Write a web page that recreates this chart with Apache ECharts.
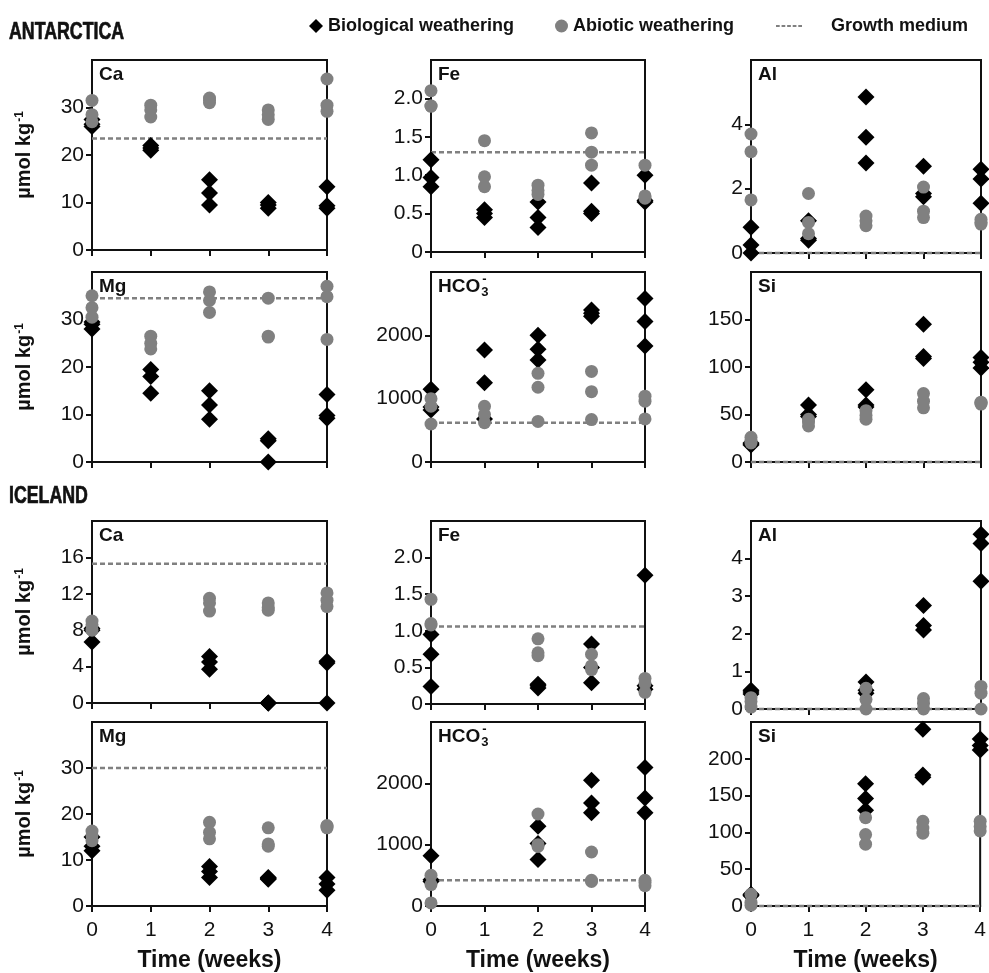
<!DOCTYPE html>
<html>
<head>
<meta charset="utf-8">
<script src="https://cdn.jsdelivr.net/npm/echarts@6/dist/echarts.min.js"></script>
<style>
  html, body { margin: 0; padding: 0; background: #fff; }
  #chart { width: 989px; height: 973px; }
</style>
</head>
<body>
<div id="chart"></div>
<script>
// ---- Sampling weeks ----
const antWeeks = [0, 1, 2, 3, 4];
const iceWeeks = [0, 2, 3, 4];

// ---- Antarctica (µmol kg-1), three replicates per sampling week ----
const antCaBio    = [[27.5, 26.5, 26], [22, 21.5, 21], [14.8, 12, 9.5], [10, 9.5, 8.8], [13.3, 9.3, 8.8]];
const antCaAbio   = [[31.5, 28.5, 27], [30.5, 29.5, 28], [32, 31.5, 31], [29.5, 28.5, 27.5], [36, 30.5, 29.2]];
const antCaMedium = 23.5;

const antFeBio    = [[1.2, 0.97, 0.85], [0.55, 0.5, 0.45], [0.65, 0.45, 0.32], [0.9, 0.53, 0.5], [1.0, 0.67, 0.65]];
const antFeAbio   = [[2.1, 1.9, 1.9], [1.45, 0.98, 0.85], [0.87, 0.8, 0.75], [1.55, 1.3, 1.13], [1.13, 0.73, 0.7]];
const antFeMedium = 1.3;

const antAlBio    = [[0.8, 0.25, 0], [1.0, 0.45, 0.4], [4.85, 3.6, 2.8], [2.7, 1.85, 1.75], [2.6, 2.3, 1.55]];
const antAlAbio   = [[3.7, 3.15, 1.65], [1.85, 0.95, 0.6], [1.15, 1.0, 0.85], [2.05, 1.3, 1.1], [1.05, 0.95, 0.9]];
const antAlMedium = 0;

const antMgBio    = [[29.5, 29, 28], [19.5, 18, 14.5], [15, 12, 9], [4.9, 4.5, 0], [14.2, 9.8, 9.2]];
const antMgAbio   = [[35, 32.5, 30.5], [26.5, 25, 23.8], [35.8, 34, 31.5], [34.5, 26.5, 26.3], [37, 34.8, 25.8]];
const antMgMedium = 34.5;

const antHco3Bio    = [[1150, 870, 820], [1770, 1250, 680], [2000, 1780, 1610], [2400, 2350, 2300], [2580, 2220, 1830]];
const antHco3Abio   = [[1000, 880, 600], [880, 750, 620], [1400, 1180, 640], [1430, 1110, 670], [1040, 960, 680]];
const antHco3Medium = 620;

const antSiBio    = [[20, 19, 18], [60, 50, 48], [76, 60, 58], [145, 111, 109], [110, 105, 99]];
const antSiAbio   = [[26, 22, 20], [45, 42, 38], [54, 49, 45], [72, 64, 57], [63, 62, 61]];
const antSiMedium = 0;

// ---- Iceland (µmol kg-1) ----
const iceCaBio    = [[8.2, 8.0, 6.7], [5.1, 4.5, 3.7], [0, 0, 0], [4.6, 4.4, 0]];
const iceCaAbio   = [[9.0, 8.6, 8.0], [11.5, 11, 10.1], [11.0, 10.5, 10.2], [12.1, 11.3, 10.6]];
const iceCaMedium = 15.3;

const iceFeBio    = [[0.95, 0.68, 0.24], [0.27, 0.25, 0.22], [0.82, 0.5, 0.29], [1.76, 0.25, 0.2]];
const iceFeAbio   = [[1.43, 1.1, 1.08], [0.89, 0.7, 0.66], [0.68, 0.52, 0.47], [0.35, 0.28, 0.16]];
const iceFeMedium = 1.06;

const iceAlBio    = [[0.5, 0.45, 0.4], [0.72, 0.5, 0.42], [2.75, 2.22, 2.1], [4.65, 4.4, 3.4]];
const iceAlAbio   = [[0.3, 0.2, 0.05], [0.55, 0.25, 0], [0.28, 0.15, 0], [0.6, 0.42, 0]];
const iceAlMedium = 0;

const iceMgBio    = [[15, 13, 12], [8.6, 7.5, 6.2], [6.2, 6, 5.8], [6.2, 4.8, 3.4]];
const iceMgAbio   = [[16.3, 15.3, 14.2], [18.2, 16, 14.6], [17, 13.5, 13], [17.5, 17.3, 17.0]];
const iceMgMedium = 30;

const iceHco3Bio    = [[820, 430, 400], [1300, 1020, 760], [2050, 1680, 1520], [2260, 1760, 1520]];
const iceHco3Abio   = [[500, 350, 50], [1500, 1000, 970], [880, 420, 400], [420, 380, 330]];
const iceHco3Medium = 420;

const iceSiBio    = [[16, 15, 14], [166, 146, 130], [240, 178, 175], [227, 218, 212]];
const iceSiAbio   = [[16, 5, 1], [120, 97, 84], [115, 106, 99], [115, 108, 102]];
const iceSiMedium = 0;

// ---- Axis ranges and labels ----
const yMax  = { Ca: [40, 20], Fe: [2.5, 2.5], Al: [6, 5], Mg: [40, 40], HCO3: [3000, 3000], Si: [200, 250] };
const yStep = { Ca: [10, 4], Fe: [0.5, 0.5], Al: [2, 1], Mg: [10, 10], HCO3: [1000, 1000], Si: [50, 50] };
const regionTitles = ['ANTARCTICA', 'ICELAND'];
const seriesNames = ['Biological weathering', 'Abiotic weathering', 'Growth medium'];
const xTitle = 'Time (weeks)';
const yTitle = 'µmol kg';

// panel list: [label, region, row-in-region, col, weeks, bio, abiotic, medium]
const panels = [
  ['Ca',   0, 0, 0, antWeeks, antCaBio,   antCaAbio,   antCaMedium],
  ['Fe',   0, 0, 1, antWeeks, antFeBio,   antFeAbio,   antFeMedium],
  ['Al',   0, 0, 2, antWeeks, antAlBio,   antAlAbio,   antAlMedium],
  ['Mg',   0, 1, 0, antWeeks, antMgBio,   antMgAbio,   antMgMedium],
  ['HCO3', 0, 1, 1, antWeeks, antHco3Bio, antHco3Abio, antHco3Medium],
  ['Si',   0, 1, 2, antWeeks, antSiBio,   antSiAbio,   antSiMedium],
  ['Ca',   1, 0, 0, iceWeeks, iceCaBio,   iceCaAbio,   iceCaMedium],
  ['Fe',   1, 0, 1, iceWeeks, iceFeBio,   iceFeAbio,   iceFeMedium],
  ['Al',   1, 0, 2, iceWeeks, iceAlBio,   iceAlAbio,   iceAlMedium],
  ['Mg',   1, 1, 0, iceWeeks, iceMgBio,   iceMgAbio,   iceMgMedium],
  ['HCO3', 1, 1, 1, iceWeeks, iceHco3Bio, iceHco3Abio, iceHco3Medium],
  ['Si',   1, 1, 2, iceWeeks, iceSiBio,   iceSiAbio,   iceSiMedium]
];

// ---- Layout (pixels) ----
const FONT = "'Liberation Sans', Arial, sans-serif";
const colLeft = [92, 431, 751];
const colWidth = [235, 214, 230];
const panelTop = [60, 60, 60, 272, 272, 272, 521, 521, 521, 722, 722, 722];
const panelHeight = [190, 192, 193, 190, 190, 190, 182, 183, 188, 186, 185, 187];
const regionTitleY = [20, 484];
const INK = '#111';
const GREY = '#808080';
// short dash pattern used as the legend icon of the growth-medium line
const DASH_ICON = 'path://M0,0h4v2h-4z M6,0h4v2h-4z M12,0h4v2h-4z M18,0h4v2h-4z M24,0h4v2h-4z';

function toPoints(weeks, groups) {
  const pts = [];
  weeks.forEach((w, i) => groups[i].forEach(v => pts.push([w, v])));
  return pts;
}

function measure(text, font) {
  const ctx = document.createElement('canvas').getContext('2d');
  ctx.font = font;
  return ctx.measureText(text).width;
}

const grids = [], xAxes = [], yAxes = [], series = [], graphics = [];

// condensed, heavy region headings
regionTitles.forEach((t, k) => {
  graphics.push({ type: 'text', x: 9, y: regionTitleY[k], scaleX: 0.74, z: 10,
    style: { text: t, font: 'bold 24px ' + FONT, fill: INK, stroke: INK, lineWidth: 0.7, textVerticalAlign: 'top' } });
});

panels.forEach((p, i) => {
  const [label, region, row, col, weeks, bio, abio, medium] = p;
  const left = colLeft[col], top = panelTop[i], width = colWidth[col], height = panelHeight[i];
  const bottomRow = region === 1 && row === 1;
  grids.push({ left, top, width, height, show: true, borderColor: INK, borderWidth: 2, containLabel: false });

  xAxes.push({
    gridIndex: i, type: 'value', min: 0, max: 4, interval: 1,
    axisLine: { show: true, onZero: false, lineStyle: { color: INK, width: 2 } },
    axisTick: { show: true, inside: false, length: 6, lineStyle: { color: INK, width: 2 } },
    axisLabel: { show: bottomRow, fontSize: 21, fontFamily: FONT, color: INK, margin: 14 },
    splitLine: { show: false },
    name: bottomRow ? xTitle : '', nameLocation: 'middle', nameGap: 43,
    nameTextStyle: { fontSize: 23, fontWeight: 'bold', fontFamily: FONT, color: INK }
  });

  const max = yMax[label][region], step = yStep[label][region];
  yAxes.push({
    gridIndex: i, type: 'value', min: 0, max, interval: step,
    axisLine: { show: true, onZero: false, lineStyle: { color: INK, width: 2 } },
    axisTick: { show: true, inside: false, length: 6, lineStyle: { color: INK, width: 2 } },
    axisLabel: {
      fontSize: 21, fontFamily: FONT, color: INK, margin: 8, showMaxLabel: false,
      formatter: v => (label === 'Fe' && v !== 0) ? v.toFixed(1) : String(v)
    },
    splitLine: { show: false },
    name: col === 0 ? '{a|' + yTitle + '}{b|-1}' : '',
    nameLocation: 'middle', nameGap: 58, nameRotate: 90,
    nameTextStyle: {
      rich: {
        a: { fontSize: 20, fontWeight: 'bold', fontFamily: FONT, color: INK },
        b: { fontSize: 12, fontWeight: 'bold', fontFamily: FONT, color: INK, verticalAlign: 'top', padding: [0, 0, 8, 1] }
      }
    }
  });

  series.push({
    type: 'line', name: seriesNames[2], xAxisIndex: i, yAxisIndex: i,
    data: [[0, medium], [4, medium]], symbol: 'none', clip: false, silent: true, z: 1,
    lineStyle: { color: GREY, width: 2.5, type: [5, 3] }, itemStyle: { color: GREY }
  });
  series.push({
    type: 'scatter', name: seriesNames[0], xAxisIndex: i, yAxisIndex: i,
    data: toPoints(weeks, bio), symbol: 'diamond', symbolSize: 17, clip: false, z: 2,
    itemStyle: { color: '#000', opacity: 1 }
  });
  series.push({
    type: 'scatter', name: seriesNames[1], xAxisIndex: i, yAxisIndex: i,
    data: toPoints(weeks, abio), symbol: 'circle', symbolSize: 13, clip: false, z: 3,
    itemStyle: { color: GREY, opacity: 1 }
  });

  // panel label in the upper-left corner
  const lx = left + 7, ly = top + 5;
  if (label === 'HCO3') {
    const font = 'bold 19px ' + FONT;
    const w = measure('HCO', font);
    graphics.push({ type: 'text', left: lx, top: ly, z: 10, style: { text: 'HCO', font, fill: INK } });
    graphics.push({ type: 'text', left: lx + w + 1, top: ly + 9, z: 10, style: { text: '3', font: 'bold 13px ' + FONT, fill: INK } });
    graphics.push({ type: 'text', left: lx + w + 2, top: ly - 4, z: 10, style: { text: '-', font: 'bold 13px ' + FONT, fill: INK } });
  } else {
    graphics.push({ type: 'text', left: lx, top: ly, z: 10, style: { text: label, font: 'bold 19px ' + FONT, fill: INK } });
  }
});

const legendText = { fontSize: 18, fontWeight: 'bold', fontFamily: FONT, color: INK };

const option = {
  animation: false,
  backgroundColor: '#fff',
  legend: [
    { left: 309, top: 17, padding: 0, selectedMode: false, itemWidth: 14, itemHeight: 14,
      data: [{ name: seriesNames[0], icon: 'diamond' }], textStyle: legendText },
    { left: 555, top: 17, padding: 0, selectedMode: false, itemWidth: 13, itemHeight: 13,
      data: [{ name: seriesNames[1], icon: 'circle' }], textStyle: legendText },
    { left: 776, top: 17, padding: 0, selectedMode: false, itemWidth: 26, itemHeight: 2.5,
      data: [{ name: seriesNames[2], icon: DASH_ICON }],
      textStyle: Object.assign({ padding: [0, 0, 0, 24] }, legendText) }
  ],
  grid: grids,
  xAxis: xAxes,
  yAxis: yAxes,
  series,
  graphic: graphics
};

const chart = echarts.init(document.getElementById('chart'), null, { renderer: 'canvas' });
chart.setOption(option);
</script>
</body>
</html>
